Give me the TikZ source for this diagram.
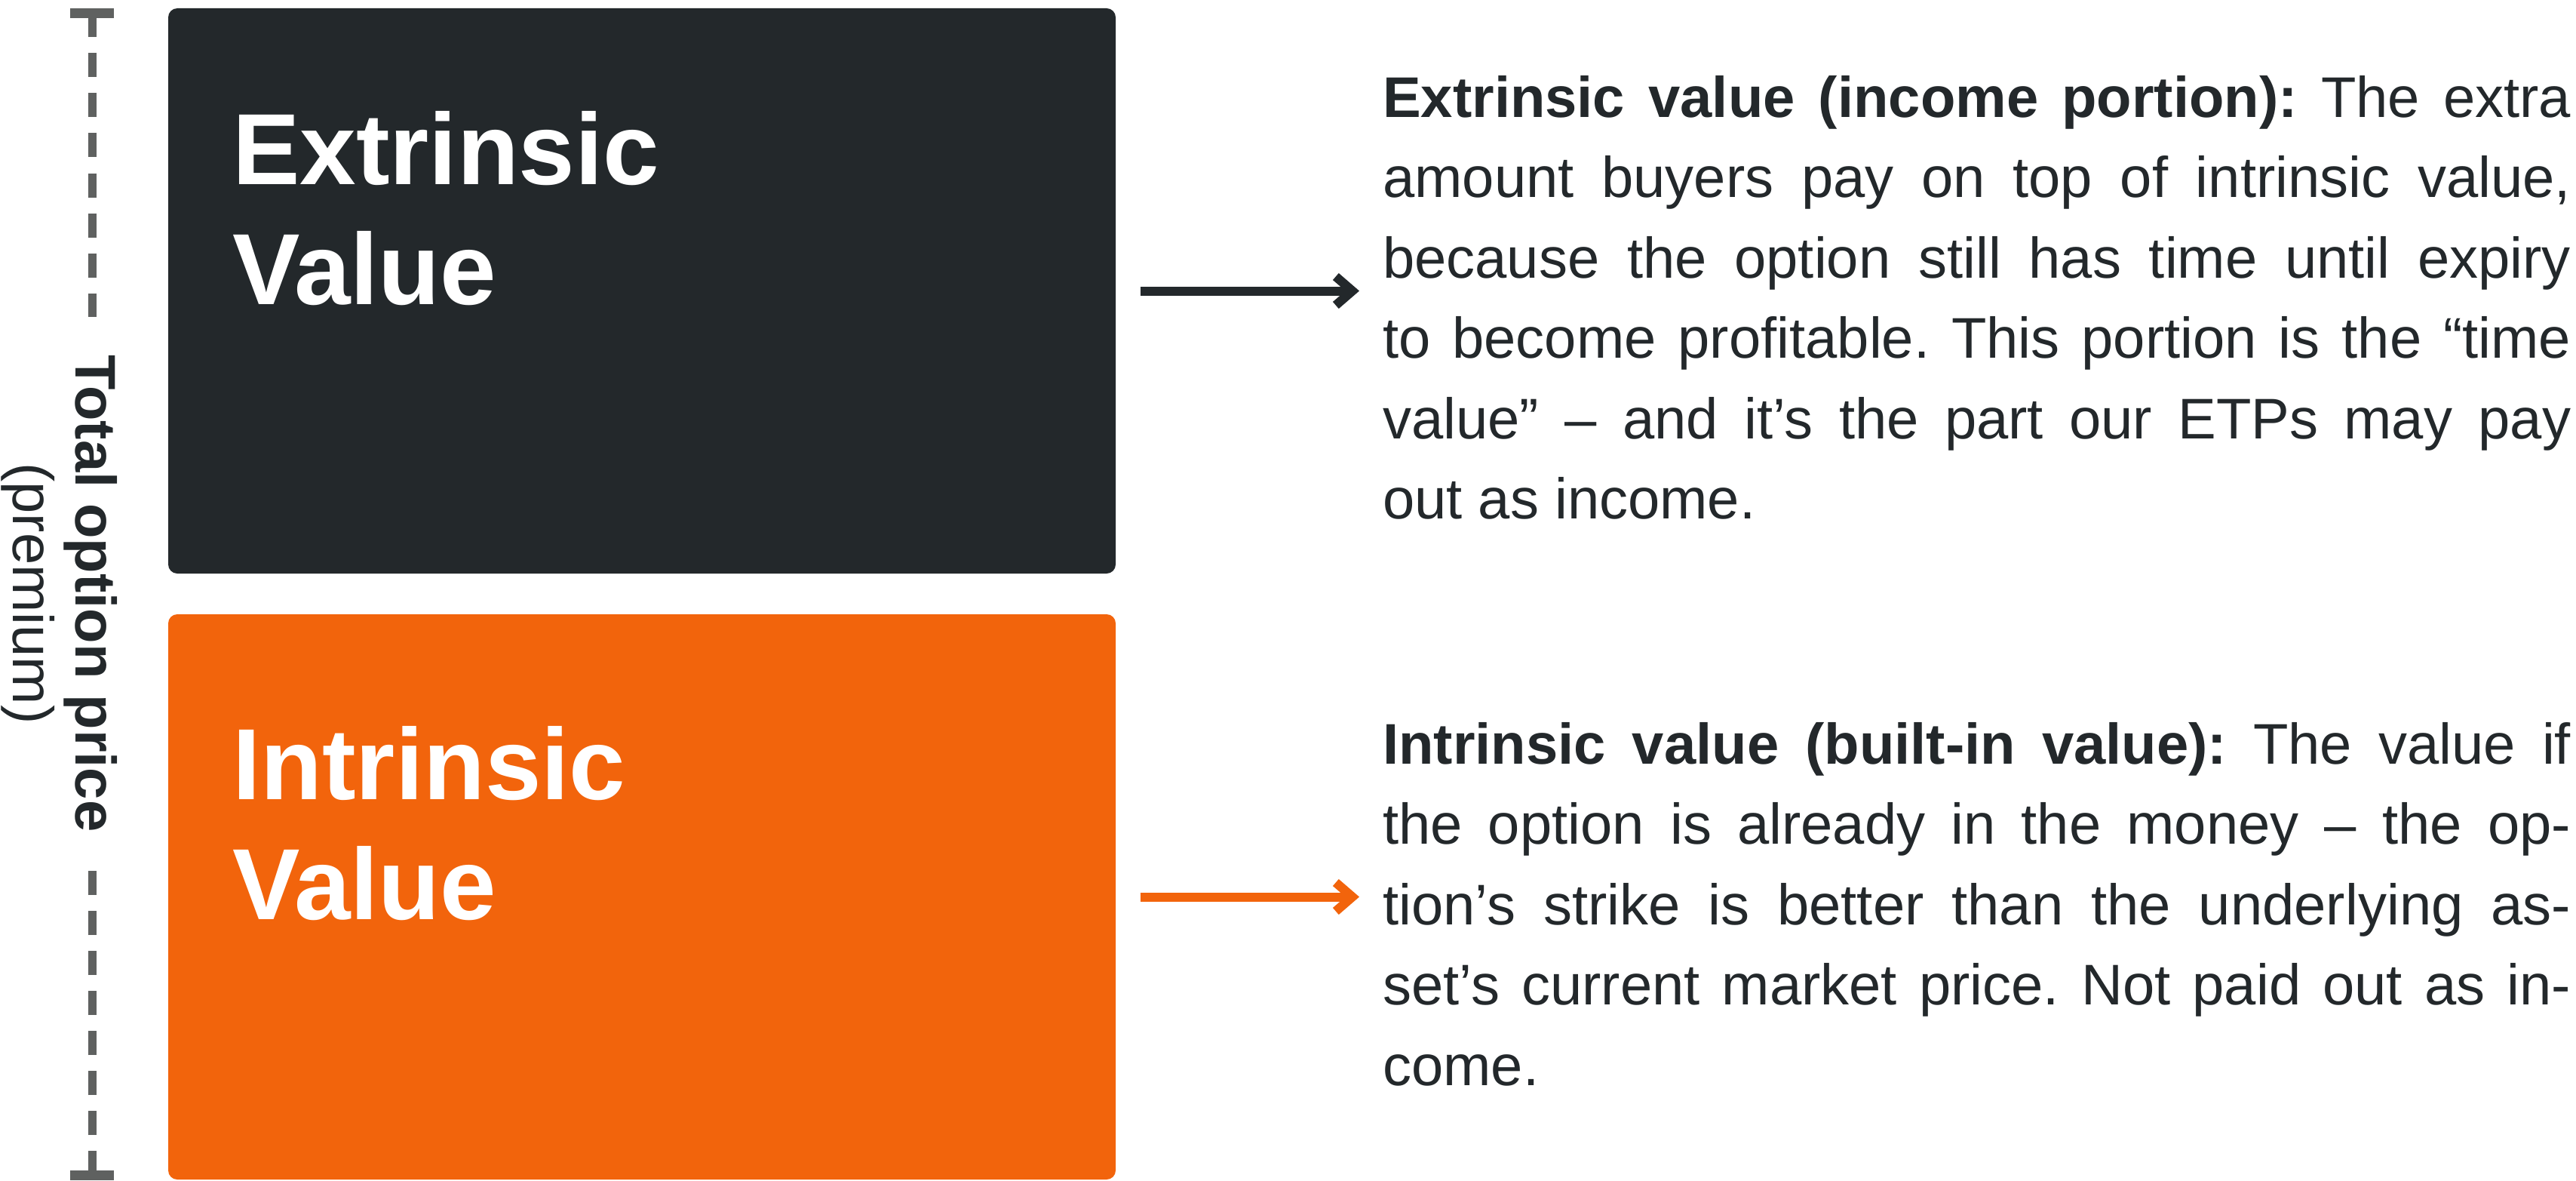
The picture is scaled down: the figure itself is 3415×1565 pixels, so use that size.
\documentclass[tikz,border=0pt]{standalone}
\usepackage{fontspec}
\setmainfont{Liberation Sans}
\usetikzlibrary{arrows.meta}
\definecolor{ink}{HTML}{23282B}
\definecolor{brand}{HTML}{F2640C}
\definecolor{dashgrey}{HTML}{5F6160}
\frenchspacing
\newcommand{\jline}[1]{\makebox[1575pt][s]{#1}}
\newcommand{\descfont}{\fontsize{76}{106.5}\selectfont}
\newcommand{\headfont}{\fontsize{134}{159}\selectfont\bfseries}
\begin{document}
\begin{tikzpicture}[x=1pt,y=-1pt,
  valbox/.style={rounded corners=12pt, draw=none, minimum width=1256pt, minimum height=749pt, inner sep=0pt},
  headtext/.style={anchor=base west, inner sep=0pt, text=white},
  desctext/.style={anchor=base west, inner sep=0pt, text=ink},
  ptr/.style={line width=12pt, -{Straight Barb[length=22pt,width=38pt]}, shorten <=33pt, shorten >=31pt},
  tbar/.style={line width=13pt, draw=dashgrey},
  dashline/.style={line width=11pt, draw=dashgrey, dash pattern=on 32pt off 21pt}
]
\useasboundingbox (0,0) rectangle (3415,1565);

% boxes
\node[valbox, fill=ink] (ext) at (851,385.5) {};
\node[valbox, fill=brand] (intr) at (851,1188.5) {};

% headings
\node[headtext] (exth) at (308,244) {\parbox[t]{1000pt}{\headfont Extrinsic\\Value}};
\node[headtext] (intrh) at (308,1059) {\parbox[t]{1000pt}{\headfont Intrinsic\\Value}};

% descriptions
\node[desctext] (descE) at (1833,155.5) {\parbox[t]{1575pt}{\descfont
\jline{\textbf{Extrinsic value (income portion):} The extra}\\
\jline{amount buyers pay on top of intrinsic value,}\\
\jline{because the option still has time until expiry}\\
\jline{to become profitable. This portion is the “time}\\
\jline{value” – and it’s the part our ETPs may pay}\\
out as income.}};
\node[desctext] (descI) at (1833,1012) {\parbox[t]{1575pt}{\descfont
\jline{\textbf{Intrinsic value (built-in value):} The value if}\\
\jline{the option is already in the money – the op-}\\
\jline{tion’s strike is better than the underlying as-}\\
\jline{set’s current market price. Not paid out as in-}\\
come.}};

% arrows
\draw[ptr, draw=ink] (ext.east) -- (ext.east -| descE.west);
\draw[ptr, draw=brand] (intr.east) -- (intr.east -| descI.west);

% total bracket
\coordinate (topT) at (122,17.5);
\coordinate (botT) at (122,1557);
\coordinate (gapTop) at (122,420);
\coordinate (gapBot) at (122,1153);
\draw[tbar] ([xshift=-29pt]topT) -- ([xshift=29pt]topT);
\draw[tbar] ([xshift=-29pt]botT) -- ([xshift=29pt]botT);
\draw[dashline] (topT) -- (gapTop);
\draw[dashline] (botT) -- (gapBot);
\node[rotate=-90, anchor=base, inner sep=0pt, text=ink] (lbl) at (100,786.5)
  {\parbox[t]{800pt}{\centering\fontsize{76}{83}\selectfont\bfseries Total option price\\\mdseries (premium)}};
\end{tikzpicture}
\end{document}
